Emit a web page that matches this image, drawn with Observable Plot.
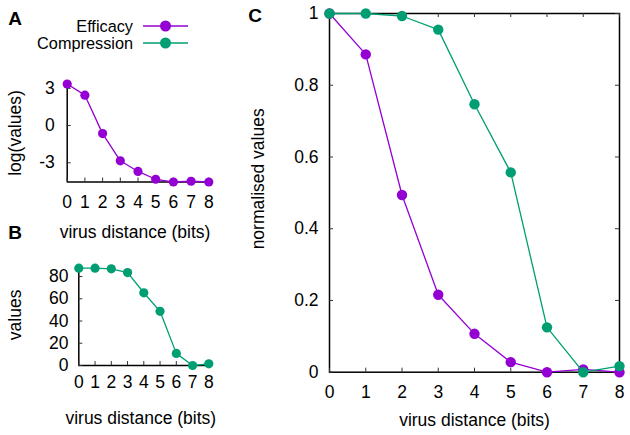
<!DOCTYPE html>
<html><head><meta charset="utf-8">
<script src="https://cdn.jsdelivr.net/npm/d3@7"></script>
<script src="https://cdn.jsdelivr.net/npm/@observablehq/plot@0.6"></script>
<style>
body{margin:0;background:#fff;}
#chart{position:relative;width:630px;height:435px;font-family:"Liberation Sans",Arial,Helvetica,sans-serif;overflow:hidden;background:#fff}
#chart svg.p{position:absolute;left:0;top:0}
.letter{position:absolute;font-weight:bold;font-size:19px;line-height:1;transform:translate(-50%,-50%)}
.legtext{position:absolute;left:0;width:133px;text-align:right;font-size:16.3px;line-height:1;transform:translateY(-50%)}
.legsym{position:absolute;left:140px}
</style></head>
<body><div id="chart"></div>
<script>
// ---- data ----
const distances = [0, 1, 2, 3, 4, 5, 6, 7, 8];
const efficacyLog = [3.35, 2.45, -0.65, -2.84, -3.70, -4.33, -4.55, -4.49, -4.55];
const compressionValues = [87.5, 87.5, 86.9, 83.6, 65.4, 48.7, 10.9, 0, 1.5];
const efficacyNorm = [1, 0.886, 0.494, 0.216, 0.107, 0.028, 0, 0.008, 0];
const compressionNorm = [1, 1, 0.993, 0.955, 0.747, 0.557, 0.125, 0, 0.017];
const seriesNames = ["Efficacy", "Compression"];
const seriesColors = ["#9400d3", "#009e73"];
const yTicksA = [-3, 0, 3];
const yTicksB = [0, 20, 40, 60, 80];
const yTicksC = [0, 0.2, 0.4, 0.6, 0.8, 1];
const xTitle = "virus distance (bits)";

const W = 630, H = 435, FS = 17.5;
const rows = (vals) => distances.map((x, i) => ({x, v: vals[i]}));

function panel(o) {
  const plotW = o.right - o.left, plotH = o.bottom - o.top;
  const marks = [];
  if (o.frame) marks.push(Plot.frame({stroke: "#000", strokeWidth: 1.5}));
  else marks.push(
    Plot.ruleY([o.yDomain[0]], {stroke: "#000", strokeWidth: 1.5}),
    Plot.ruleX([distances[0]], {stroke: "#000", strokeWidth: 1.5})
  );
  marks.push(Plot.tickX(distances, {x: d => d, insetTop: plotH - 4, stroke: "#333"}));
  marks.push(Plot.tickY(o.yTicks, {y: d => d, insetRight: plotW - 4, stroke: "#333"}));
  if (o.frame) {
    marks.push(Plot.tickX(distances, {x: d => d, insetBottom: plotH - 4, stroke: "#333"}));
    marks.push(Plot.tickY(o.yTicks, {y: d => d, insetLeft: plotW - 4, stroke: "#333"}));
  }
  marks.push(Plot.axisX({ticks: distances, tickSize: 0, tickPadding: o.xPad, fontSize: FS, label: null}));
  marks.push(Plot.axisY({ticks: o.yTicks, tickFormat: o.yFormat, tickSize: 0, tickPadding: o.yPad, fontSize: FS, label: null}));
  for (const s of o.series) {
    marks.push(Plot.line(rows(s.vals), {x: "x", y: "v", stroke: s.color, strokeWidth: 1.3}));
    marks.push(Plot.dot(rows(s.vals), {x: "x", y: "v", r: o.r, fill: s.color, stroke: null}));
  }
  marks.push(Plot.text([xTitle], {text: d => d, frameAnchor: "bottom", dy: o.xtDy, dx: o.xtDx || 0, lineAnchor: "middle", fontSize: FS}));
  marks.push(Plot.text([o.yTitle], {text: d => d, frameAnchor: "left", rotate: -90, dx: o.ytDx, dy: o.ytDy || 0, textAnchor: "middle", lineAnchor: "middle", fontSize: FS}));
  const svg = Plot.plot({
    width: W, height: H,
    marginLeft: o.left, marginRight: W - o.right, marginTop: o.top, marginBottom: H - o.bottom,
    x: {domain: [0, 8]},
    y: {domain: o.yDomain},
    style: {background: "transparent", fontFamily: '"Liberation Sans", Arial, Helvetica, sans-serif', fontSize: FS + "px", color: "#000"},
    marks
  });
  svg.classList.add("p");
  return svg;
}

const chart = document.getElementById("chart");

chart.appendChild(panel({
  left: 66.7, right: 208.3, top: 83.5, bottom: 181.5,
  yDomain: [-4.55, 3.35], yTicks: yTicksA, yFormat: d => String(d),
  xPad: 14, yPad: 12.5, r: 4.6, xtDy: 50, xtDx: -3,
  yTitle: "log(values)", ytDx: 15 - 66.7,
  series: [{vals: efficacyLog, color: seriesColors[0]}]
}));

chart.appendChild(panel({
  left: 78.3, right: 208.3, top: 267.7, bottom: 365,
  yDomain: [0, 87.5], yTicks: yTicksB, yFormat: d => String(d),
  xPad: 10.5, yPad: 10.3, r: 4.6, xtDy: 53.3, xtDx: -3,
  yTitle: "values", ytDx: 15 - 78.3, ytDy: -2,
  series: [{vals: compressionValues, color: seriesColors[1]}]
}));

chart.appendChild(panel({
  frame: true,
  left: 329, right: 619, top: 13, bottom: 371.7,
  yDomain: [0, 1], yTicks: yTicksC, yFormat: d => String(d),
  xPad: 13.7, yPad: 11, r: 5.2, xtDy: 48.3,
  yTitle: "normalised values", ytDx: 258.3 - 329, ytDy: -14,
  series: [{vals: efficacyNorm, color: seriesColors[0]}, {vals: compressionNorm, color: seriesColors[1]}]
}));

// panel letters
[["A", 15, 18], ["B", 15, 232], ["C", 255, 15]].forEach(([t, x, y]) => {
  const d = document.createElement("div");
  d.className = "letter"; d.textContent = t;
  d.style.left = x + "px"; d.style.top = y + "px";
  chart.appendChild(d);
});

// legend
const legY = [26, 43];
seriesNames.forEach((name, i) => {
  const t = document.createElement("div");
  t.className = "legtext"; t.textContent = name; t.style.top = legY[i] + "px";
  chart.appendChild(t);
  const s = d3.create("svg").attr("class", "legsym").attr("width", 52).attr("height", 14)
    .style("top", (legY[i] - 7) + "px");
  s.append("line").attr("x1", 3).attr("x2", 48).attr("y1", 7).attr("y2", 7)
    .attr("stroke", seriesColors[i]).attr("stroke-width", 1.3);
  s.append("circle").attr("cx", 25.5).attr("cy", 7).attr("r", 5.5).attr("fill", seriesColors[i]);
  chart.appendChild(s.node());
});
</script>
</body></html>
